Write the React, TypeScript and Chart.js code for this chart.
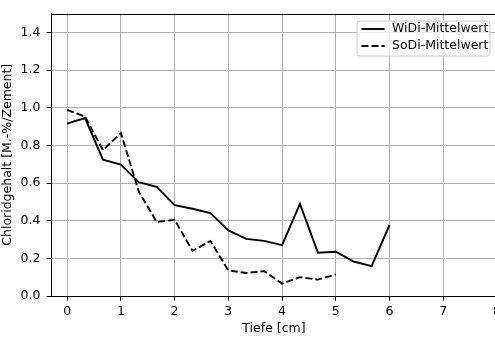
import React, { useEffect, useRef } from "react";
import { Chart, registerables } from "chart.js";

Chart.register(...registerables);

const depthWiDi = [0, 0.333, 0.667, 1, 1.333, 1.667, 2, 2.333, 2.667, 3, 3.333, 3.667, 4, 4.333, 4.667, 5, 5.333, 5.667, 6];
const valuesWiDi = [0.915, 0.945, 0.724, 0.698, 0.604, 0.579, 0.482, 0.463, 0.44, 0.348, 0.303, 0.293, 0.27, 0.489, 0.23, 0.235, 0.183, 0.158, 0.377];

const depthSoDi = [0, 0.333, 0.667, 1, 1.333, 1.667, 2, 2.333, 2.667, 3, 3.333, 3.667, 4, 4.333, 4.667, 5];
const valuesSoDi = [0.988, 0.953, 0.774, 0.866, 0.555, 0.393, 0.405, 0.24, 0.292, 0.136, 0.122, 0.132, 0.066, 0.1, 0.087, 0.115];

const xTicks = [0, 1, 2, 3, 4, 5, 6, 7, 8];
const yTicks = [0, 0.2, 0.4, 0.6, 0.8, 1.0, 1.2, 1.4];

const labelWiDi = "WiDi-Mittelwert";
const labelSoDi = "SoDi-Mittelwert";
const xTitle = "Tiefe [cm]";
const yTitle = "Chloridgehalt [M.-%/Zement]";

const FONT = "DejaVu Sans";
const FS = 12.5;
const CANVAS_W = 520;
const CANVAS_H = 338;
const LW = 1.9;

const framePlugin = {
  id: "frame",
  afterDatasetsDraw(chart: any) {
    const { ctx, chartArea } = chart;
    const { left, right, top, bottom } = chartArea;
    ctx.save();
    ctx.strokeStyle = "#000";
    ctx.lineWidth = 1;
    ctx.beginPath();
    const ty = Math.round(top) + 0.5;
    ctx.moveTo(left, ty);
    ctx.lineTo(right, ty);
    ctx.moveTo(right - 0.5, top);
    ctx.lineTo(right - 0.5, bottom);
    ctx.stroke();

    // legend
    const bx = right - 140;
    const by = top + 7.5;
    const bw = 133;
    const bh = 35;
    const r = 3;
    ctx.beginPath();
    ctx.moveTo(bx + r, by);
    ctx.lineTo(bx + bw - r, by);
    ctx.arcTo(bx + bw, by, bx + bw, by + r, r);
    ctx.lineTo(bx + bw, by + bh - r);
    ctx.arcTo(bx + bw, by + bh, bx + bw - r, by + bh, r);
    ctx.lineTo(bx + r, by + bh);
    ctx.arcTo(bx, by + bh, bx, by + bh - r, r);
    ctx.lineTo(bx, by + r);
    ctx.arcTo(bx, by, bx + r, by, r);
    ctx.closePath();
    ctx.fillStyle = "rgba(255,255,255,0.8)";
    ctx.fill();
    ctx.strokeStyle = "#cccccc";
    ctx.lineWidth = 1;
    ctx.stroke();

    const items = chart.data.datasets;
    items.forEach((ds: any, i: number) => {
      const y = by + 8 + i * 17;
      ctx.beginPath();
      ctx.strokeStyle = "#000";
      ctx.lineWidth = LW;
      ctx.setLineDash(ds.borderDash || []);
      ctx.moveTo(bx + 4.5, y);
      ctx.lineTo(bx + 27.5, y);
      ctx.stroke();
      ctx.setLineDash([]);
      ctx.fillStyle = "#000";
      ctx.font = `${FS}px "${FONT}"`;
      ctx.textBaseline = "middle";
      ctx.textAlign = "left";
      ctx.fillText(ds.label, bx + 35, y);
    });
    ctx.restore();
  },
};

export default function App() {
  const ref = useRef<HTMLCanvasElement>(null);

  useEffect(() => {
    const canvas = ref.current;
    if (!canvas) return;
    const chart = new Chart(canvas, {
      type: "line",
      data: {
        datasets: [
          {
            label: labelWiDi,
            data: depthWiDi.map((x, i) => ({ x, y: valuesWiDi[i] })),
            borderColor: "#000",
            borderWidth: LW,
            pointRadius: 0,
            tension: 0,
            fill: false,
          },
          {
            label: labelSoDi,
            data: depthSoDi.map((x, i) => ({ x, y: valuesSoDi[i] })),
            borderColor: "#000",
            borderWidth: LW,
            borderDash: [7, 3],
            pointRadius: 0,
            tension: 0,
            fill: false,
          },
        ],
      },
      options: {
        responsive: false,
        animation: false,
        devicePixelRatio: 1,
        layout: { padding: { left: 0, top: 7, right: CANVAS_W - 497, bottom: 0 } },
        plugins: { legend: { display: false }, tooltip: { enabled: false } },
        scales: {
          x: {
            type: "linear",
            min: -0.3,
            max: 8,
            afterBuildTicks: (s: any) => {
              s.ticks = xTicks.map((v) => ({ value: v }));
            },
            afterFit: (s: any) => {
              s.height = CANVAS_H - 296;
            },
            ticks: {
              autoSkip: false,
              maxRotation: 0,
              padding: 4,
              color: "#000",
              font: { family: FONT, size: FS },
              callback: (v: any) => String(v),
            },
            grid: { color: "#b0b0b0", lineWidth: 1, tickColor: "#000", tickLength: 4.5, drawTicks: true },
            border: { display: true, color: "#000", width: 1 },
            title: {
              display: true,
              text: xTitle,
              color: "#000",
              font: { family: FONT, size: FS },
              padding: { top: 0, bottom: 1.5 },
            },
          },
          y: {
            type: "linear",
            min: 0,
            max: 1.5,
            afterBuildTicks: (s: any) => {
              s.ticks = yTicks.map((v) => ({ value: v }));
            },
            afterFit: (s: any) => {
              s.width = 51;
            },
            ticks: {
              padding: 6,
              color: "#000",
              font: { family: FONT, size: FS },
              callback: (v: any) => Number(v).toFixed(1),
            },
            grid: { color: "#b0b0b0", lineWidth: 1, tickColor: "#000", tickLength: 4.5, drawTicks: true },
            border: { display: true, color: "#000", width: 1 },
            title: {
              display: true,
              text: yTitle,
              color: "#000",
              font: { family: FONT, size: FS },
              padding: { top: 0, bottom: 0 },
            },
          },
        },
      },
      plugins: [framePlugin],
    } as any);
    return () => chart.destroy();
  }, []);

  return (
    <div style={{ position: "fixed", left: 0, top: 0, width: 495, height: CANVAS_H, overflow: "hidden", background: "#fff" }}>
      <canvas ref={ref} width={CANVAS_W} height={CANVAS_H} style={{ display: "block" }} />
    </div>
  );
}
